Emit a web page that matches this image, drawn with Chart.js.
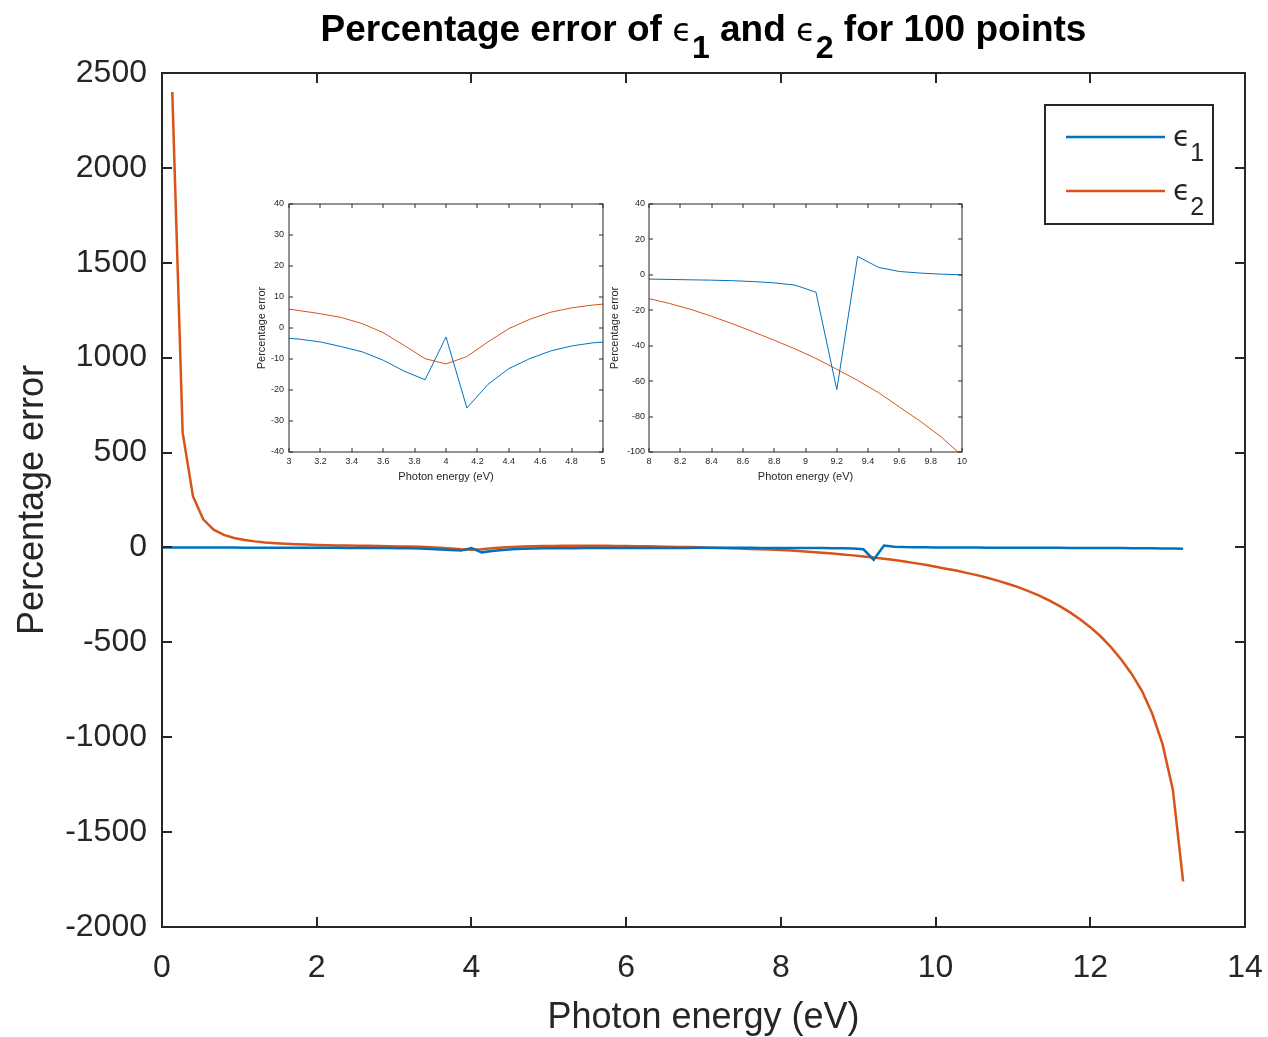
<!DOCTYPE html>
<html>
<head>
<meta charset="utf-8">
<script src="https://cdn.jsdelivr.net/npm/chart.js@4.4.1/dist/chart.umd.min.js"></script>
<style>
  html, body { margin: 0; padding: 0; background: #fff; }
  #wrap { position: relative; width: 1268px; height: 1037px; }
  #wrap canvas { position: absolute; }
  #main { left: 0; top: 0; }
  #insetA { left: 246px; top: 190px; }
  #insetB { left: 606px; top: 190px; }
</style>
</head>
<body>
<div id="wrap">
  <canvas id="main" width="1268" height="1037"></canvas>
  <canvas id="insetA" width="370" height="300"></canvas>
  <canvas id="insetB" width="370" height="300"></canvas>
</div>
<script>
// photon energy grid (eV), 2/15 eV steps, 100 points
const energy = [
  0, 0.133, 0.267, 0.4, 0.533, 0.667, 0.8, 0.933, 1.067, 1.2, 1.333,
  1.467, 1.6, 1.733, 1.867, 2.0, 2.133, 2.267, 2.4, 2.533, 2.667,
  2.8, 2.933, 3.067, 3.2, 3.333, 3.467, 3.6, 3.733, 3.867, 4.0,
  4.133, 4.267, 4.4, 4.533, 4.667, 4.8, 4.933, 5.067, 5.2, 5.333,
  5.467, 5.6, 5.733, 5.867, 6.0, 6.133, 6.267, 6.4, 6.533, 6.667,
  6.8, 6.933, 7.067, 7.2, 7.333, 7.467, 7.6, 7.733, 7.867, 8.0,
  8.133, 8.267, 8.4, 8.533, 8.667, 8.8, 8.933, 9.067, 9.2, 9.333,
  9.467, 9.6, 9.733, 9.867, 10.0, 10.133, 10.267, 10.4, 10.533, 10.667,
  10.8, 10.933, 11.067, 11.2, 11.333, 11.467, 11.6, 11.733, 11.867, 12.0,
  12.133, 12.267, 12.4, 12.533, 12.667, 12.8, 12.933, 13.067, 13.2
];

// percentage error of eps1
const eps1Err = [
  -0.2, -0.3, -0.4, -0.5, -0.6, -0.7, -0.8, -0.9, -1.0, -1.1, -1.2,
  -1.3, -1.4, -1.5, -1.6, -1.8, -1.9, -2.1, -2.3, -2.5, -2.7,
  -2.9, -3.1, -3.6, -4.5, -6.0, -7.7, -10.4, -13.9, -16.7, -2.9,
  -25.8, -18.2, -13.1, -9.9, -7.4, -5.8, -4.8, -4.3, -3.9, -3.6,
  -3.3, -3.1, -2.9, -2.8, -2.7, -2.6, -2.5, -2.4, -2.4, -2.3,
  -2.3, -2.2, -2.2, -2.2, -2.2, -2.2, -2.2, -2.3, -2.3, -2.4,
  -2.6, -2.8, -3.0, -3.3, -3.8, -4.5, -5.8, -9.8, -64.8, 10.4,
  4.2, 1.9, 1.0, 0.4, 0.0, -0.3, -0.5, -0.7, -0.9, -1.0,
  -1.2, -1.3, -1.5, -1.6, -1.8, -1.9, -2.1, -2.3, -2.5, -2.7,
  -2.9, -3.2, -3.5, -3.8, -4.2, -4.6, -5.1, -5.7, -6.5
];

// percentage error of eps2 (undefined at 0 eV)
const eps2Err = [
  null, 2400, 605, 270, 148, 94, 66, 50, 39, 32, 26.5,
  22.5, 19.5, 17, 15, 13.3, 12, 10.9, 9.9, 9.1, 8.3,
  7.5, 6.6, 5.6, 4.6, 3.4, 1.4, -1.5, -5.6, -9.9, -11.6,
  -9.2, -4.5, -0.2, 2.8, 5.1, 6.5, 7.4, 8.0, 8.4, 8.7,
  8.8, 8.7, 8.4, 8.0, 7.4, 6.7, 5.9, 5.0, 4.0, 2.9,
  1.7, 0.4, -1.0, -2.5, -4.1, -5.8, -7.6, -9.5, -11.4, -13.4,
  -16.2, -19.5, -23.4, -27.6, -32.2, -36.9, -41.8, -47.2, -53.3, -59.6,
  -66.5, -74.6, -82.6, -91.5, -102, -112, -122, -134, -146, -160,
  -175, -191, -209, -230, -253, -279, -308, -341, -378, -420,
  -468, -525, -590, -665, -755, -875, -1035, -1275, -1760
];

const seriesNames = ['1', '2'];
const BLUE = '#0072BD';
const ORANGE = '#D95319';
const INK = '#262626';
const SANS = "'Liberation Sans', Arial, sans-serif";
const GREEK = "'DejaVu Sans', sans-serif";

const points = ys => energy.map((x, i) => ({ x, y: ys[i] }));
const plain = v => String(Math.round(v * 10) / 10);

// box round the axes with ticks pointing inwards on all four sides
function framePlugin(tickLen, lineWidth) {
  return {
    id: 'frame',
    afterDatasetsDraw(chart) {
      const { ctx, chartArea: a, scales: { x, y } } = chart;
      ctx.save();
      ctx.strokeStyle = INK;
      ctx.lineWidth = lineWidth;
      ctx.beginPath();
      x.ticks.forEach(t => {
        const px = Math.round(x.getPixelForValue(t.value));
        ctx.moveTo(px, a.bottom); ctx.lineTo(px, a.bottom - tickLen);
        ctx.moveTo(px, a.top); ctx.lineTo(px, a.top + tickLen);
      });
      y.ticks.forEach(t => {
        const py = Math.round(y.getPixelForValue(t.value));
        ctx.moveTo(a.left, py); ctx.lineTo(a.left + tickLen, py);
        ctx.moveTo(a.right, py); ctx.lineTo(a.right - tickLen, py);
      });
      ctx.stroke();
      ctx.strokeRect(a.left, a.top, a.width, a.height);
      ctx.restore();
    }
  };
}

// text made of pieces with their own font and vertical shift (for subscripts)
function drawPieces(ctx, parts, x, baseline, align) {
  let total = 0;
  parts.forEach(p => { ctx.font = p.font; p.w = ctx.measureText(p.t).width; total += p.w; });
  let cx = align === 'center' ? x - total / 2 : x;
  ctx.textBaseline = 'alphabetic';
  ctx.textAlign = 'left';
  parts.forEach(p => {
    ctx.font = p.font;
    ctx.fillText(p.t, cx, baseline + (p.dy || 0));
    cx += p.w;
  });
}

const titlePlugin = {
  id: 'richTitle',
  afterDraw(chart) {
    const { ctx, chartArea: a } = chart;
    const bold = `bold 37px ${SANS}`;
    const eps = `32px ${GREEK}`;
    const sub = `bold 32px ${SANS}`;
    ctx.save();
    ctx.fillStyle = '#000';
    drawPieces(ctx, [
      { t: 'Percentage error of ', font: bold },
      { t: '\u03F5', font: eps },
      { t: seriesNames[0], font: sub, dy: 17 },
      { t: ' and ', font: bold },
      { t: '\u03F5', font: eps },
      { t: seriesNames[1], font: sub, dy: 17 },
      { t: ' for 100 points', font: bold }
    ], (a.left + a.right) / 2, 41, 'center');
    ctx.restore();
  }
};

const legendPlugin = {
  id: 'boxLegend',
  afterDraw(chart) {
    const { ctx } = chart;
    const box = { x: 1045, y: 105, w: 168, h: 119 };
    ctx.save();
    ctx.fillStyle = '#fff';
    ctx.fillRect(box.x, box.y, box.w, box.h);
    ctx.strokeStyle = INK;
    ctx.lineWidth = 2;
    ctx.strokeRect(box.x, box.y, box.w, box.h);
    chart.data.datasets.forEach((ds, i) => {
      const yy = 137 + i * 54;
      ctx.strokeStyle = ds.borderColor;
      ctx.lineWidth = 2.5;
      ctx.beginPath();
      ctx.moveTo(1066, yy);
      ctx.lineTo(1165, yy);
      ctx.stroke();
      ctx.fillStyle = INK;
      drawPieces(ctx, [
        { t: '\u03F5', font: `28px ${GREEK}` },
        { t: seriesNames[i], font: `25px ${SANS}`, dy: 15 }
      ], 1173, yy + 9, 'left');
    });
    ctx.restore();
  }
};

function makeChart(id, cfg) {
  return new Chart(document.getElementById(id), {
    type: 'line',
    data: {
      datasets: [
        { label: 'eps1', data: points(eps1Err), borderColor: BLUE, borderWidth: cfg.lw, pointRadius: 0, tension: 0 },
        { label: 'eps2', data: points(eps2Err), borderColor: ORANGE, borderWidth: cfg.lw, pointRadius: 0, tension: 0 }
      ]
    },
    options: {
      responsive: false,
      animation: false,
      events: [],
      layout: { padding: cfg.padding },
      plugins: { legend: { display: false }, tooltip: { enabled: false } },
      scales: {
        x: {
          type: 'linear',
          min: cfg.xr[0], max: cfg.xr[1],
          grid: { display: false, drawTicks: false },
          border: { display: false },
          afterFit: s => { s.height = cfg.xh; s.paddingLeft = 0; s.paddingRight = 0; },
          ticks: { stepSize: cfg.xs, color: INK, padding: cfg.xpad, maxRotation: 0, autoSkip: false, callback: plain, font: { family: SANS, size: cfg.tick } },
          title: { display: true, text: 'Photon energy (eV)', color: INK, padding: { top: 0, bottom: cfg.xtpad }, font: { family: SANS, size: cfg.label } }
        },
        y: {
          min: cfg.yr[0], max: cfg.yr[1],
          grid: { display: false, drawTicks: false },
          border: { display: false },
          afterFit: s => { s.width = cfg.yw; s.paddingTop = 0; s.paddingBottom = 0; },
          ticks: { stepSize: cfg.ys, color: INK, padding: cfg.ypad, callback: plain, font: { family: SANS, size: cfg.tick } },
          title: { display: true, text: 'Percentage error', color: INK, padding: { top: cfg.ytpad, bottom: 0 }, font: { family: SANS, size: cfg.label } }
        }
      }
    },
    plugins: [framePlugin(cfg.tl, cfg.fw)].concat(cfg.extra || [])
  });
}

// full range
makeChart('main', {
  lw: 2.5, padding: { top: 73, right: 23, bottom: 0, left: 0 },
  xr: [0, 14], xs: 2, yr: [-2000, 2500], ys: 500,
  xh: 110, yw: 162, tick: 32, label: 36,
  xpad: 22, ypad: 15, xtpad: -3, ytpad: 11,
  tl: 10, fw: 2, extra: [titlePlugin, legendPlugin]
});

// zoom on the dip near 4 eV
makeChart('insetA', {
  lw: 1, padding: { top: 14, right: 13, bottom: 0, left: 0 },
  xr: [3, 5], xs: 0.2, yr: [-40, 40], ys: 10,
  xh: 38, yw: 43, tick: 9, label: 11,
  xpad: 4, ypad: 5, xtpad: 6, ytpad: 9,
  tl: 4, fw: 1
});

// zoom on the dip near 9.2 eV
makeChart('insetB', {
  lw: 1, padding: { top: 14, right: 14, bottom: 0, left: 0 },
  xr: [8, 10], xs: 0.2, yr: [-100, 40], ys: 20,
  xh: 38, yw: 43, tick: 9, label: 11,
  xpad: 4, ypad: 4, xtpad: 6, ytpad: 2,
  tl: 4, fw: 1
});
</script>
</body>
</html>
